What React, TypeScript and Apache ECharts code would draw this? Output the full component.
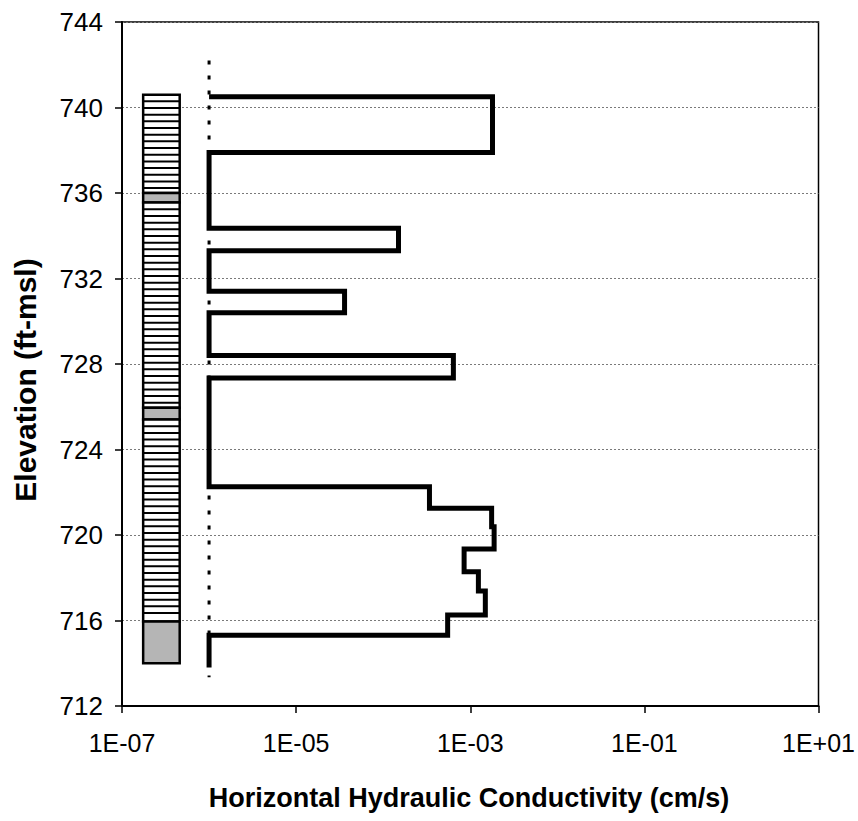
import React, { useEffect, useRef } from 'react';
import * as echarts from 'echarts';

// ---- Axis definitions ----
const X_MIN_EXP = -7; // 1E-07
const X_MAX_EXP = 1; // 1E+01
const X_STEP_DECADES = 2;
const Y_MIN = 712;
const Y_MAX = 744;
const Y_STEP = 4;

// ---- Hydraulic conductivity profile (tested intervals, top -> bottom) ----
const segTop = [740.5, 737.9, 734.35, 733.3, 731.4, 730.4, 728.4, 727.35, 722.26, 721.25, 720.39, 719.34, 718.28, 717.38, 716.26, 715.31];
const segBottom = [737.9, 734.35, 733.3, 731.4, 730.4, 728.4, 727.35, 722.26, 721.25, 720.39, 719.34, 718.28, 717.38, 716.26, 715.31, 713.8];
const segK = [1.8e-3, 1e-6, 1.5e-4, 1e-6, 3.6e-5, 1e-6, 6.4e-4, 1e-6, 3.4e-4, 1.76e-3, 1.88e-3, 8.5e-4, 1.24e-3, 1.49e-3, 5.5e-4, 1e-6];

// ---- Reporting limit line ----
const baselineK = 1e-6;
const baselineElev = [742.2, 713.35];

// ---- Lithology column ----
const lithTop = [740.6, 736.0, 735.55, 725.95, 725.4, 715.95];
const lithBottom = [736.0, 735.55, 725.95, 725.4, 715.95, 714.0];
const lithType = ['striped', 'gray', 'striped', 'gray', 'striped', 'gray'];
const lithK = [1.75e-7, 4.6e-7];

const toX = (k: number) => Math.log10(k) - X_MIN_EXP;

const expLabel = (v: number) => {
  const e = Math.round(v + X_MIN_EXP);
  const sign = e < 0 ? '-' : '+';
  return '1E' + sign + String(Math.abs(e)).padStart(2, '0');
};

const FONT = 'Arial, "Liberation Sans", Helvetica, sans-serif';

export default function App() {
  const ref = useRef<HTMLDivElement>(null);

  useEffect(() => {
    if (!ref.current) return;
    const chart = echarts.init(ref.current, undefined, { renderer: 'svg' });

    const stepData: number[][] = [[toX(baselineK), segTop[0]]];
    segK.forEach((k, i) => {
      stepData.push([toX(k), segTop[i]]);
      stepData.push([toX(k), segBottom[i]]);
    });

    const lithData = lithTop.map((t, i) => [
      toX(lithK[0]),
      toX(lithK[1]),
      t,
      lithBottom[i],
      lithType[i] === 'gray' ? 1 : 0,
    ]);

    const option: any = {
      animation: false,
      backgroundColor: '#fff',
      grid: {
        left: 122,
        right: 38,
        top: 22,
        bottom: 115,
        show: true,
        borderColor: '#000',
        borderWidth: 1.5,
      },
      xAxis: {
        type: 'value',
        min: 0,
        max: X_MAX_EXP - X_MIN_EXP,
        interval: X_STEP_DECADES,
        axisLine: { show: true, lineStyle: { color: '#000', width: 2 } },
        axisTick: { show: true, inside: false, length: 7, lineStyle: { color: '#000', width: 1.5 } },
        splitLine: { show: false },
        axisLabel: {
          formatter: expLabel,
          color: '#000',
          fontFamily: FONT,
          fontSize: 25,
          margin: 24,
        },
      },
      yAxis: {
        type: 'value',
        min: Y_MIN,
        max: Y_MAX,
        interval: Y_STEP,
        axisLine: { show: true, lineStyle: { color: '#000', width: 2 } },
        axisTick: { show: true, inside: false, length: 7, lineStyle: { color: '#000', width: 1.5 } },
        splitLine: { show: true, lineStyle: { color: '#7a7a7a', width: 1, type: [2, 2] } },
        axisLabel: {
          color: '#000',
          fontFamily: FONT,
          fontSize: 26,
          margin: 19,
        },
      },
      graphic: [
        {
          type: 'text',
          x: 469,
          y: 798,
          style: {
            text: 'Horizontal Hydraulic Conductivity (cm/s)',
            font: 'bold 27px ' + FONT,
            fill: '#000',
            textAlign: 'center',
            textVerticalAlign: 'middle',
          },
        },
        {
          type: 'text',
          x: 25,
          y: 380,
          rotation: Math.PI / 2,
          style: {
            text: 'Elevation (ft-msl)',
            font: 'bold 30px ' + FONT,
            fill: '#000',
            textAlign: 'center',
            textVerticalAlign: 'middle',
          },
        },
      ],
      series: [
        {
          type: 'line',
          data: [
            [toX(baselineK), baselineElev[0]],
            [toX(baselineK), baselineElev[1]],
          ],
          symbol: 'none',
          lineStyle: { color: '#000', width: 3, type: [4, 11] },
          z: 2,
        },
        {
          type: 'line',
          data: stepData,
          symbol: 'none',
          lineStyle: { color: '#000', width: 5, join: 'miter' },
          z: 3,
        },
        {
          type: 'custom',
          data: lithData,
          encode: { x: [0, 1], y: [2, 3] },
          z: 4,
          renderItem: (params: any, api: any) => {
            const p0 = api.coord([api.value(0), api.value(2)]);
            const p1 = api.coord([api.value(1), api.value(3)]);
            const x = p0[0];
            const y = p0[1];
            const w = p1[0] - p0[0];
            const h = p1[1] - p0[1];
            const gray = api.value(4) === 1;
            const children: any[] = [
              {
                type: 'rect',
                shape: { x, y, width: w, height: h },
                style: { fill: gray ? '#b5b5b5' : '#fff' },
              },
            ];
            if (!gray) {
              const spacing = 6.67;
              for (let yy = y + spacing; yy < y + h - 2; yy += spacing) {
                children.push({
                  type: 'line',
                  shape: { x1: x, y1: yy, x2: x + w, y2: yy },
                  style: { stroke: '#000', lineWidth: 2 },
                });
              }
            }
            children.push({
              type: 'rect',
              shape: { x, y, width: w, height: h },
              style: { fill: 'none', stroke: '#000', lineWidth: 2.5 },
            });
            return { type: 'group', children };
          },
        },
      ],
    };

    chart.setOption(option);
    return () => chart.dispose();
  }, []);

  return (
    <div
      ref={ref}
      style={{ position: 'fixed', left: 0, top: 0, width: 858, height: 821, background: '#fff' }}
    />
  );
}
